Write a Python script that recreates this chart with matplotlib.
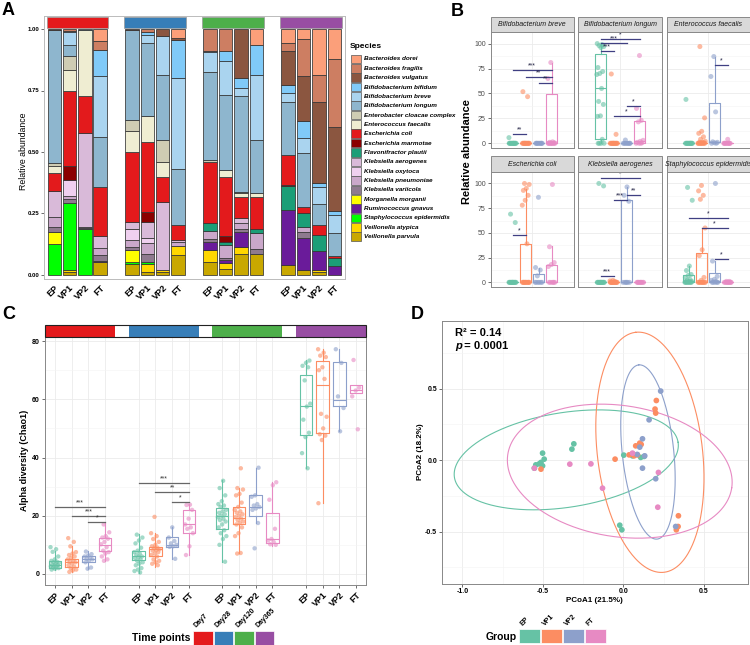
import numpy as np
import matplotlib
matplotlib.use('Agg')
import matplotlib.pyplot as plt
from matplotlib.patches import Rectangle

plt.rcParams['font.family'] = ['Liberation Sans', 'DejaVu Sans']
plt.rcParams['axes.unicode_minus'] = False

W, H = 750, 645
fig = plt.figure(figsize=(W / 100, H / 100), dpi=100)


def px_axes(x0, y0, x1, y1):
    return fig.add_axes([x0 / W, 1 - y1 / H, (x1 - x0) / W, (y1 - y0) / H])


def ftext(x, y, s, **kw):
    return fig.text(x / W, 1 - y / H, s, **kw)


def frect(x0, y0, x1, y1, **kw):
    r = Rectangle((x0 / W, 1 - y1 / H), (x1 - x0) / W, (y1 - y0) / H,
                  transform=fig.transFigure, **kw)
    fig.add_artist(r)
    return r


def jitter(n, half, phase=0.0):
    i = np.arange(n)
    return ((i * 0.6180339887 + phase) % 1.0 - 0.5) * 2 * half


# ---------------------------------------------------------------- common
groups = ['EP', 'VP1', 'VP2', 'FT']
group_colors = ['#66C2A5', '#FC8D62', '#8DA0CB', '#E78AC3']
days = ['Day7', 'Day28', 'Day120', 'Day365']
day_colors = ['#E41A1C', '#377EB8', '#4DAF4A', '#984EA3']

# ---------------------------------------------------------------- panel A data
species = ['Bacteroides dorei', 'Bacteroides fragilis', 'Bacteroides vulgatus',
           'Bifidobacterium bifidum', 'Bifidobacterium breve', 'Bifidobacterium longum',
           'Enterobacter cloacae complex', 'Enterococcus faecalis', 'Escherichia coli',
           'Escherichia marmotae', 'Flavonifractor plautii', 'Klebsiella aerogenes',
           'Klebsiella oxytoca', 'Klebsiella pneumoniae', 'Klebsiella variicola',
           'Morganella morganii', 'Ruminococcus gnavus', 'Staphylococcus epidermidis',
           'Veillonella atypica', 'Veillonella parvula']
species_colors = ['#FB9F7A', '#CD7E62', '#8B5640', '#80CAF8', '#AAD4EF', '#8EB6CE',
                  '#CFCCB3', '#EFEDD2', '#E31A1C', '#8B0000', '#1B9E77', '#D9BAD9',
                  '#EFD0EF', '#CAA8CA', '#8F7A8F', '#FFFF00', '#6A1B9A', '#00FF00',
                  '#FFD700', '#C9A800']

d7_EP = [0, 0, .003, 0, 0, .542, .011, .031, .071, 0, 0, .106, 0, .040, .021, .051, 0, .124, 0, 0]
d7_VP1 = [0, .007, 0, .004, .052, .047, .055, .088, .302, .058, 0, 0, .064, .014, .016, 0, 0, .273, .007, .012]
d7_VP2 = [0, 0, 0, 0, 0, .005, 0, .267, .152, 0, 0, .380, 0, .004, .003, 0, 0, .189, 0, 0]
d7_FT = [.050, .034, 0, .109, .245, .206, 0, 0, .196, 0, 0, .050, 0, .030, .023, 0, .004, 0, 0, .053]
d28_EP = [0, 0, .003, 0, 0, .365, .048, .086, .281, 0, 0, .031, .044, .027, .014, .048, 0, .007, 0, .046]
d28_VP1 = [0, .011, 0, .014, .031, .299, 0, .106, .283, .039, 0, .068, .018, .044, .034, 0, 0, .007, .034, .012]
d28_VP2 = [0, 0, .030, 0, .156, .265, .088, .061, .102, 0, 0, .276, 0, 0, 0, 0, 0, 0, .010, .012]
d28_FT = [.036, 0, .010, .154, .371, .224, 0, 0, .061, 0, 0, .009, 0, .018, 0, 0, 0, 0, .034, .083]
d120_EP = [0, .088, 0, .007, .079, .359, .007, 0, .250, 0, .033, 0, 0, .032, .010, 0, .032, 0, .050, .053]
d120_VP1 = [0, .090, 0, .040, .140, .305, 0, .025, .240, .025, .015, 0, 0, .050, .010, 0, .010, 0, .025, .025]
d120_VP2 = [0, 0, .200, .040, .033, .388, .005, .016, .088, 0, 0, .020, 0, .025, .010, 0, .061, 0, .027, .087]
d120_FT = [.064, 0, 0, .122, .265, .217, 0, .014, .133, 0, .016, 0, 0, .062, .020, 0, 0, 0, 0, .087]
d365_EP = [.057, .034, .136, .034, .034, .217, 0, 0, .123, .005, .096, 0, 0, 0, 0, 0, .224, 0, 0, .040]
d365_VP1 = [.041, .149, .182, .072, .059, .220, 0, 0, .027, 0, .054, 0, 0, .021, .023, 0, .132, 0, 0, .020]
d365_VP2 = [.185, .113, .327, .019, .068, .086, 0, 0, .040, 0, .064, 0, 0, 0, 0, 0, .076, 0, .010, .012]
d365_FT = [.120, .280, .340, .015, .075, .094, 0, 0, .008, 0, .033, 0, 0, 0, 0, 0, .035, 0, 0, 0]

A_bars = [[d7_EP, d7_VP1, d7_VP2, d7_FT],
          [d28_EP, d28_VP1, d28_VP2, d28_FT],
          [d120_EP, d120_VP1, d120_VP2, d120_FT],
          [d365_EP, d365_VP1, d365_VP2, d365_FT]]

# ---------------------------------------------------------------- panel A draw
ftext(2, 2, 'A', fontsize=13, fontweight='bold', va='top', ha='left')
ylo_A, yhi_A = -4 / 246, 1 + 13 / 246
frame = px_axes(44, 16, 345, 279)
frame.set_xlim(0, 1)
frame.set_ylim(ylo_A, yhi_A)
frame.set_xticks([])
frame.set_yticks([0, .25, .5, .75, 1])
frame.set_yticklabels(['0.00', '0.25', '0.50', '0.75', '1.00'], fontsize=4.3, fontweight='bold')
frame.tick_params(axis='y', length=2, width=0.5, pad=1.5, color='#333333')
for s in frame.spines.values():
    s.set_color('#BBBBBB')
    s.set_linewidth(0.7)
ftext(24, 151, 'Relative abundance', rotation=90, ha='center', va='center', fontsize=6.3)

facet_x_A = [(46.7, 107.7), (124.3, 185.7), (202.3, 264.3), (280, 342.3)]
for d, (x0, x1) in enumerate(facet_x_A):
    ax = px_axes(x0, 28.5, x1, 279)
    ax.patch.set_alpha(0)
    ax.set_xlim(0.5, 4.5)
    ax.set_ylim(ylo_A, 1 + 0.5 / 246)
    for b, vals in enumerate(A_bars[d]):
        bottom = 0.0
        for k in range(len(species) - 1, -1, -1):
            v = vals[k]
            if v > 0:
                ax.bar(b + 1, v, bottom=bottom, width=0.88, color=species_colors[k],
                       edgecolor='#333333', linewidth=0.55)
                bottom += v
    for s in ax.spines.values():
        s.set_visible(False)
    ax.set_yticks([])
    ax.set_xticks(range(1, 5))
    ax.set_xticklabels(groups, rotation=45, ha='right', va='top', rotation_mode='anchor',
                       fontsize=6.5, fontweight='bold')
    ax.tick_params(axis='x', length=0, pad=3)
    frect(x0, 16.7, x1, 28.3, facecolor=day_colors[d], edgecolor='#999999', linewidth=0.5)

# legend A
ftext(350, 46, 'Species', fontsize=6, fontweight='bold', va='center', ha='left')
for i, (name, col) in enumerate(zip(species, species_colors)):
    yc = 59 + i * 9.35
    frect(351, yc - 4.3, 360.5, yc + 4.3, facecolor=col, edgecolor='#555555', linewidth=0.5)
    ftext(364, yc, name, fontsize=4.6, fontstyle='italic', fontweight='bold', va='center', ha='left')

# ---------------------------------------------------------------- panel B data
B_titles = ['Bifidobacterium breve', 'Bifidobacterium longum', 'Enterococcus faecalis',
            'Escherichia coli', 'Klebsiella aerogenes', 'Staphylococcus epidermidis']

# non-zero sample values per group (EP, VP1, VP2, FT) and number of zero samples
breve_pts = [[5.7], [51.8, 46.8], [], [81, 65, 1.5, 1, 0.5]]
breve_zero = [14, 14, 10, 10]
longum_pts = [[100, 99, 98, 97, 96, 76, 72, 70, 69, 55, 42, 39, 27.5, 27, 4], [69.5, 9], [3.3],
              [88, 35, 23, 21.5, 3, 2, 1, 0.5]]
longum_zero = [4, 14, 9, 3]
faecalis_pts = [[44], [97, 25.5, 12, 10, 6.5, 4, 2, 1, 1, 0.5], [87, 67, 31.5, 1.5, 1, 0.5], [4]]
faecalis_zero = [14, 10, 2, 10]
coli_pts = [[69, 60.5], [100, 99, 95, 93, 88, 83, 78, 39], [86, 15, 12.5, 6.5], [99, 36, 20, 18, 16]]
coli_zero = [14, 12, 6, 6]
aerog_pts = [[100, 97.5], [2, 1.5, 1], [96.5, 88, 82], []]
aerog_zero = [14, 14, 6, 10]
epid_pts = [[96, 83, 16.5, 12, 8, 7, 5, 3, 2, 1, 1, 0.5], [98, 92.5, 88, 84, 55, 33, 27, 5, 2],
            [100, 21.5, 6, 3, 2, 1], [1, 1]]
epid_zero = [8, 10, 5, 10]

# box stats (whislo, q1, med, q3, whishi)
breve_box = [(0, 0, 0, 0, 0), (0, 0, 0, 0, 0), (0, 0, 0, 0, 0), (0, 0, 0, 49.2, 81)]
longum_box = [(0, 4, 55, 90, 100), (0, 0, 0, 0, 0), (0, 0, 0, 0, 0), (0, 0.5, 2, 22.5, 35)]
faecalis_box = [(0, 0, 0, 0, 0), (0, 0, 0, 0.8, 2), (0, 1, 1.5, 40, 87), (0, 0, 0, 0, 0)]
coli_box = [(0, 0, 0, 0, 0), (0, 0, 0, 39, 94), (0, 0, 0, 8.5, 15), (0, 0, 0, 18, 36.5)]
aerog_box = [(0, 0, 0, 0, 0), (0, 0, 0, 0, 0), (0, 0, 0, 83, 96), (0, 0, 0, 0, 0)]
epid_box = [(0, 0, 1, 7, 16.5), (0, 0, 0, 30, 55), (0, 0, 1, 9, 21.7), (0, 0, 0, 0, 0)]

# significance (group a, group b, y, label)
breve_sig = [(0, 1, 9, '**'), (0, 3, 73.6, '***'), (1, 3, 66.9, '**'), (2, 3, 60.9, '**')]
longum_sig = [(0, 3, 105, '*'), (0, 2, 100.3, '***'), (0, 1, 92.6, '***'), (2, 3, 37.5, '*'), (1, 3, 27.4, '*')]
faecalis_sig = [(2, 3, 78.3, '*')]
coli_sig = [(0, 1, 47.5, '*')]
aerog_sig = [(0, 3, 105.4, '*'), (1, 2, 83.3, '***'), (2, 3, 88.3, '**'), (0, 1, 6.4, '***')]
epid_sig = [(0, 3, 64.9, '*'), (1, 3, 55.2, '*'), (2, 3, 24.1, '*')]

B_pts = [breve_pts, longum_pts, faecalis_pts, coli_pts, aerog_pts, epid_pts]
B_zero = [breve_zero, longum_zero, faecalis_zero, coli_zero, aerog_zero, epid_zero]
B_box = [breve_box, longum_box, faecalis_box, coli_box, aerog_box, epid_box]
B_sig = [breve_sig, longum_sig, faecalis_sig, coli_sig, aerog_sig, epid_sig]

# ---------------------------------------------------------------- panel B draw
ftext(451, 3, 'B', fontsize=13, fontweight='bold', va='top', ha='left')
ftext(467, 152, 'Relative abundance', rotation=90, ha='center', va='center',
      fontsize=8, fontweight='bold')
B_fx = [(490.7, 573.7), (578.3, 662), (666.7, 749.5)]
B_rows = [(17, 32, 148), (156, 172, 287)]
B_pos = [0.71875, 0.90625, 1.09375, 1.28125]
sig_col = '#3F3F82'

for f in range(6):
    r, c = divmod(f, 3)
    x0, x1 = B_fx[c]
    s0, p0, p1 = B_rows[r]
    ax = px_axes(x0, p0, x1, p1)
    ax.set_xlim(0.4, 1.6)
    ax.set_ylim(-4.7, 111.6)
    ax.set_axisbelow(True)
    ax.set_yticks([0, 25, 50, 75, 100])
    ax.set_yticks([12.5, 37.5, 62.5, 87.5], minor=True)
    ax.set_xticks([1])
    ax.grid(which='major', color='#EBEBEB', linewidth=0.6)
    ax.grid(which='minor', axis='y', color='#F4F4F4', linewidth=0.4)
    ax.tick_params(axis='x', length=0, labelbottom=False)
    ax.tick_params(axis='y', which='minor', length=0)
    if c == 0:
        ax.tick_params(axis='y', length=2, width=0.5, labelsize=5, pad=1.5,
                       labelcolor='#4D4D4D', color='#333333')
    else:
        ax.tick_params(axis='y', length=0, labelleft=False)
    for s in ax.spines.values():
        s.set_color('#888888')
        s.set_linewidth(0.7)
    for g in range(4):
        vals = np.array(B_pts[f][g] + [0.0] * B_zero[f][g], dtype=float)
        xs = B_pos[g] + jitter(len(vals), 0.055, 0.13 * g + 0.07 * f)
        ax.scatter(xs, vals, s=13, color=group_colors[g], alpha=0.6, edgecolors='none', zorder=3)
        wl, q1, md, q3, wh = B_box[f][g]
        st = [dict(whislo=wl, q1=q1, med=md, q3=q3, whishi=wh, fliers=[])]
        lp = dict(color=group_colors[g], linewidth=0.8)
        ax.bxp(st, positions=[B_pos[g]], widths=0.16, showfliers=False, showcaps=False,
               boxprops=lp, whiskerprops=lp, medianprops=lp, manage_ticks=False)
    for a, b, y, lab in B_sig[f]:
        ax.plot([B_pos[a], B_pos[b]], [y, y], color=sig_col, linewidth=0.9, zorder=4)
        ax.text((B_pos[a] + B_pos[b]) / 2, y + 0.5, lab, ha='center', va='bottom',
                fontsize=5, color='#222244', zorder=4)
    frect(x0, s0, x1, p0, facecolor='#D9D9D9', edgecolor='#888888', linewidth=0.7)
    ftext((x0 + x1) / 2, (s0 + p0) / 2, B_titles[f], fontsize=5.0, fontstyle='italic',
          ha='center', va='center', color='#1A1A1A')

# ---------------------------------------------------------------- panel C data
C_positions = [1, 2, 3, 4, 6, 7, 8, 9, 11, 12, 13, 14, 16, 17, 18, 19]
d7_pts = [[9.2, 8.5, 7.6, 6.0, 5.0, 4.5, 4.2, 4.0, 3.8, 3.5, 3.2, 3.0, 2.8, 2.6, 2.5, 2.2, 2.0, 1.8, 1.5],
          [12.3, 11.0, 9.5, 7.5, 7.0, 6.5, 6.0, 5.5, 5.0, 4.5, 4.2, 4.0, 3.5, 3.0, 2.5, 2.0, 1.5, 1.2, 0.7],
          [7.7, 6.8, 6.3, 6.0, 5.5, 5.2, 5.0, 4.5, 4.0, 2.2, 1.8],
          [17.0, 14.3, 13.0, 12.5, 12.1, 11.0, 10.2, 9.2, 8.0, 7.5, 7.0, 6.0, 5.0, 4.5]]
d28_pts = [[13.5, 12.5, 11.5, 10.5, 9.0, 8.0, 7.5, 7.0, 6.5, 6.0, 5.8, 5.5, 5.0, 4.5, 4.0, 3.5, 3.0, 2.0, 1.5, 1.0, 0.5],
           [19.6, 14.0, 13.0, 12.0, 11.0, 10.0, 9.5, 9.0, 8.8, 8.5, 8.2, 8.0, 7.5, 7.0, 6.5, 6.0, 5.0, 4.5, 4.0, 3.5, 3.0],
           [16.0, 12.5, 11.3, 10.5, 10.0, 9.5, 9.3, 5.2],
           [23.8, 23.7, 22.0, 19.0, 17.0, 16.0, 15.5, 14.0, 9.5, 6.5]]
d120_pts = [[32.0, 29.5, 27.0, 25.0, 24.0, 23.5, 23.0, 22.0, 21.5, 21.0, 20.5, 20.0, 19.5, 19.0, 18.5, 18.0,
             17.0, 16.0, 15.0, 14.0, 13.0, 12.0, 10.0, 4.2],
            [36.3, 29.5, 29.0, 27.5, 27.0, 24.5, 23.0, 22.0, 21.5, 21.0, 20.5, 20.0, 19.5, 19.0, 18.5, 18.0,
             17.5, 17.0, 16.0, 14.0, 13.0, 7.2, 7.0],
            [36.5, 27.0, 26.5, 24.0, 23.5, 23.0, 22.5, 22.0, 17.5, 8.8],
            [31.5, 30.5, 25.5, 15.5, 12.0, 11.5, 11.0, 10.2, 10.0]]
d365_pts = [[73.3, 72.5, 71.5, 71.0, 66.5, 58.5, 57.5, 53.0, 48.5, 47.0, 41.5, 36.3],
            [77.2, 76.0, 75.0, 74.5, 71.0, 70.0, 67.0, 55.0, 54.0, 50.0, 48.0, 47.5, 46.0, 24.3],
            [77.2, 72.5, 61.0, 57.0, 49.0],
            [73.5, 64.0, 63.0, 61.0, 49.7]]
# (whislo, q1, med, q3, whishi)
d7_box = [(1.4, 2.0, 3.1, 4.5, 8.0), (0.7, 2.4, 4.2, 5.0, 9.5), (1.7, 4.0, 5.1, 6.0, 8.0), (4.3, 8.0, 10.0, 12.5, 17.4)]
d28_box = [(0.45, 4.8, 6.0, 8.0, 13.6), (2.3, 6.0, 8.5, 9.2, 14.0), (5.2, 9.4, 10.0, 12.6, 16.2), (6.5, 14.0, 17.2, 22.0, 23.9)]
d120_box = [(4.2, 15.3, 20.0, 22.5, 32.2), (7.1, 17.0, 19.1, 22.9, 29.4), (17.6, 19.9, 22.9, 27.1, 36.5), (9.6, 10.5, 12.0, 20.8, 31.7)]
d365_box = [(36.3, 47.9, 57.8, 68.3, 73.4), (24.2, 48.3, 64.8, 73.2, 77.2), (49.1, 57.8, 59.9, 72.8, 77.2), (62.0, 62.0, 63.1, 64.8, 64.8)]
d7_sig = [(0, 3, 23.1, '***'), (1, 3, 20.0, '***'), (2, 3, 17.7, '*')]
d28_sig = [(0, 3, 31.1, '***'), (1, 3, 28.0, '**'), (2, 3, 24.8, '*')]

C_pts = [d7_pts, d28_pts, d120_pts, d365_pts]
C_box = [d7_box, d28_box, d120_box, d365_box]
C_sig = [d7_sig, d28_sig, [], []]

# ---------------------------------------------------------------- panel C draw
ftext(2, 306, 'C', fontsize=13, fontweight='bold', va='top', ha='left')
cx0, cx1, cy0, cy1 = 45, 366, 337, 585
xl_C = (0.4, 19.6)
axc = px_axes(cx0, cy0, cx1, cy1)
axc.set_xlim(*xl_C)
axc.set_ylim(-3.8, 81.4)
axc.set_axisbelow(True)
axc.set_yticks([0, 20, 40, 60, 80])
axc.set_yticks([10, 30, 50, 70], minor=True)
axc.set_xticks(C_positions)
axc.set_xticklabels(groups * 4, rotation=45, ha='right', va='top', rotation_mode='anchor',
                    fontsize=6.3, fontweight='bold')
axc.grid(which='major', color='#EBEBEB', linewidth=0.6)
axc.grid(which='minor', axis='y', color='#F4F4F4', linewidth=0.4)
axc.tick_params(axis='y', which='minor', length=0)
axc.tick_params(axis='both', which='major', length=2, width=0.5, pad=2, color='#333333')
axc.tick_params(axis='y', labelsize=5)
for lab in axc.get_yticklabels():
    lab.set_fontweight('bold')
for s in axc.spines.values():
    s.set_color('#888888')
    s.set_linewidth(0.7)
ftext(25, 460, 'Alpha diversity (Chao1)', rotation=90, ha='center', va='center',
      fontsize=6.5, fontweight='bold')

for d in range(4):
    for g in range(4):
        p = C_positions[d * 4 + g]
        vals = np.array(C_pts[d][g], dtype=float)
        xs = p + jitter(len(vals), 0.27, 0.11 * g + 0.3 * d)
        axc.scatter(xs, vals, s=10, color=group_colors[g], alpha=0.6, edgecolors='none', zorder=3)
        wl, q1, md, q3, wh = C_box[d][g]
        st = [dict(whislo=wl, q1=q1, med=md, q3=q3, whishi=wh, fliers=[])]
        lp = dict(color=group_colors[g], linewidth=0.8)
        axc.bxp(st, positions=[p], widths=0.75, showfliers=False, showcaps=False,
                boxprops=lp, whiskerprops=lp, medianprops=lp, manage_ticks=False)
    for a, b, y, lab in C_sig[d]:
        pa, pb = C_positions[d * 4 + a], C_positions[d * 4 + b]
        axc.plot([pa, pb], [y, y], color='#666666', linewidth=0.9, zorder=4)
        axc.text((pa + pb) / 2, y + 0.2, lab, ha='center', va='bottom', fontsize=5,
                 color='#333333', zorder=4)


def cx_px(v):
    return cx0 + (v - xl_C[0]) / (xl_C[1] - xl_C[0]) * (cx1 - cx0)


frect(cx0, 325, cx1, 337, facecolor='white', edgecolor='none')
for d in range(4):
    frect(cx_px(C_positions[d * 4] - 0.6), 325.5, cx_px(C_positions[d * 4 + 3] + 0.6), 336.5,
          facecolor=day_colors[d], edgecolor='none')
frect(cx0, 325, cx1, 337, facecolor='none', edgecolor='#222222', linewidth=0.8)

# time points legend
ftext(190, 638, 'Time points', fontsize=7.5, fontweight='bold', ha='right', va='center')
leg_x = [193, 213.5, 234, 254.5]
for d in range(4):
    frect(leg_x[d], 631, leg_x[d] + 19.5, 645, facecolor=day_colors[d], edgecolor='white', linewidth=0.5)
    ftext(leg_x[d] + 5, 629, days[d], fontsize=5, fontweight='bold', rotation=45,
          ha='left', va='bottom', rotation_mode='anchor')

# ---------------------------------------------------------------- panel D data
ep_x = [-0.502, -0.492, -0.544, -0.523, -0.512, -0.502, -0.553, -0.320, -0.308, 0.002, 0.107, 0.128, -0.023, -0.010, 0.056]
ep_y = [0.049, 0.007, -0.033, -0.026, -0.016, -0.040, -0.056, 0.077, 0.114, 0.035, 0.019, 0.026, -0.455, -0.487, 0.030]
vp1_x = [-0.512, -0.052, 0.056, 0.076, 0.087, 0.101, 0.066, 0.035, 0.204, 0.196, 0.200, 0.341, 0.339, 0.328, 0.110]
vp1_y = [-0.063, 0.007, 0.044, 0.100, 0.037, 0.119, 0.030, 0.037, 0.417, 0.357, 0.329, -0.389, -0.464, -0.487, 0.110]
vp2_x = [0.231, 0.159, 0.118, 0.101, 0.132, 0.118, 0.200, 0.324, 0.085]
vp2_y = [0.483, 0.282, 0.149, 0.091, 0.030, -0.056, -0.130, -0.464, 0.040]
ft_x = [-0.553, -0.333, -0.202, -0.130, 0.056, 0.217, 0.213]
ft_y = [-0.056, -0.028, -0.026, -0.196, 0.049, -0.086, -0.329]
# 95% ellipses: centre, and two conjugate semi-axis vectors (data units)
ell_center = [(-0.355, 0.002), (0.164, 0.055), (0.152, 0.057), (-0.023, -0.077)]
ell_u = [(0.694, 0.123), (-0.088, 0.839), (-0.057, 0.609), (0.695, -0.116)]
ell_v = [(-0.046, 0.327), (0.324, 0.043), (0.159, 0.019), (0.059, 0.454)]

# ---------------------------------------------------------------- panel D draw
ftext(411, 306, 'D', fontsize=13, fontweight='bold', va='top', ha='left')
axd = px_axes(441.7, 320.7, 747.7, 584)
axd.set_xlim(-1.128, 0.771)
axd.set_ylim(-0.866, 0.975)
axd.set_axisbelow(True)
axd.set_xticks([-1.0, -0.5, 0.0, 0.5])
axd.set_xticklabels(['-1.0', '-0.5', '0.0', '0.5'])
axd.set_xticks([-0.75, -0.25, 0.25], minor=True)
axd.set_yticks([-0.5, 0.0, 0.5])
axd.set_yticklabels(['-0.5', '0.0', '0.5'])
axd.set_yticks([-0.75, -0.25, 0.25, 0.75], minor=True)
axd.grid(which='major', color='#EBEBEB', linewidth=0.6)
axd.grid(which='minor', color='#F4F4F4', linewidth=0.4)
axd.tick_params(which='minor', length=0)
axd.tick_params(which='major', length=2, width=0.5, pad=1.2, labelsize=5, color='#333333')
for lab in axd.get_xticklabels() + axd.get_yticklabels():
    lab.set_fontweight('bold')
for s in axd.spines.values():
    s.set_color('#888888')
    s.set_linewidth(0.7)
D_x = [ep_x, vp1_x, vp2_x, ft_x]
D_y = [ep_y, vp1_y, vp2_y, ft_y]
t = np.linspace(0, 2 * np.pi, 300)
for g in range(4):
    (cx, cy), (ux, uy), (vx, vy) = ell_center[g], ell_u[g], ell_v[g]
    axd.plot(cx + ux * np.cos(t) + vx * np.sin(t), cy + uy * np.cos(t) + vy * np.sin(t),
             color=group_colors[g], linewidth=0.8)
for g in range(4):
    axd.scatter(D_x[g], D_y[g], s=17, color=group_colors[g], edgecolors='none', zorder=3)
ftext(594, 600, 'PCoA1 (21.5%)', fontsize=5.8, fontweight='bold', ha='center', va='center')
ftext(420, 452, 'PCoA2 (18.2%)', fontsize=5.8, fontweight='bold', ha='center', va='center', rotation=90)
ftext(455, 333, 'R² = 0.14', fontsize=8, fontweight='bold', ha='left', va='center')
ftext(455, 346, 'p', fontsize=8, fontweight='bold', fontstyle='italic', ha='left', va='center')
ftext(461.5, 346, ' = 0.0001', fontsize=8, fontweight='bold', ha='left', va='center')

# group legend
ftext(517, 637, 'Group', fontsize=7.5, fontweight='bold', ha='right', va='center')
gleg_x = [519, 541, 563, 585]
for g in range(4):
    frect(gleg_x[g], 629, gleg_x[g] + 21, 643, facecolor=group_colors[g], edgecolor='white', linewidth=0.5)
    ftext(gleg_x[g] + 5, 627, groups[g], fontsize=5, fontweight='bold', rotation=45,
          ha='left', va='bottom', rotation_mode='anchor')

fig.savefig('out.png', dpi=100)
